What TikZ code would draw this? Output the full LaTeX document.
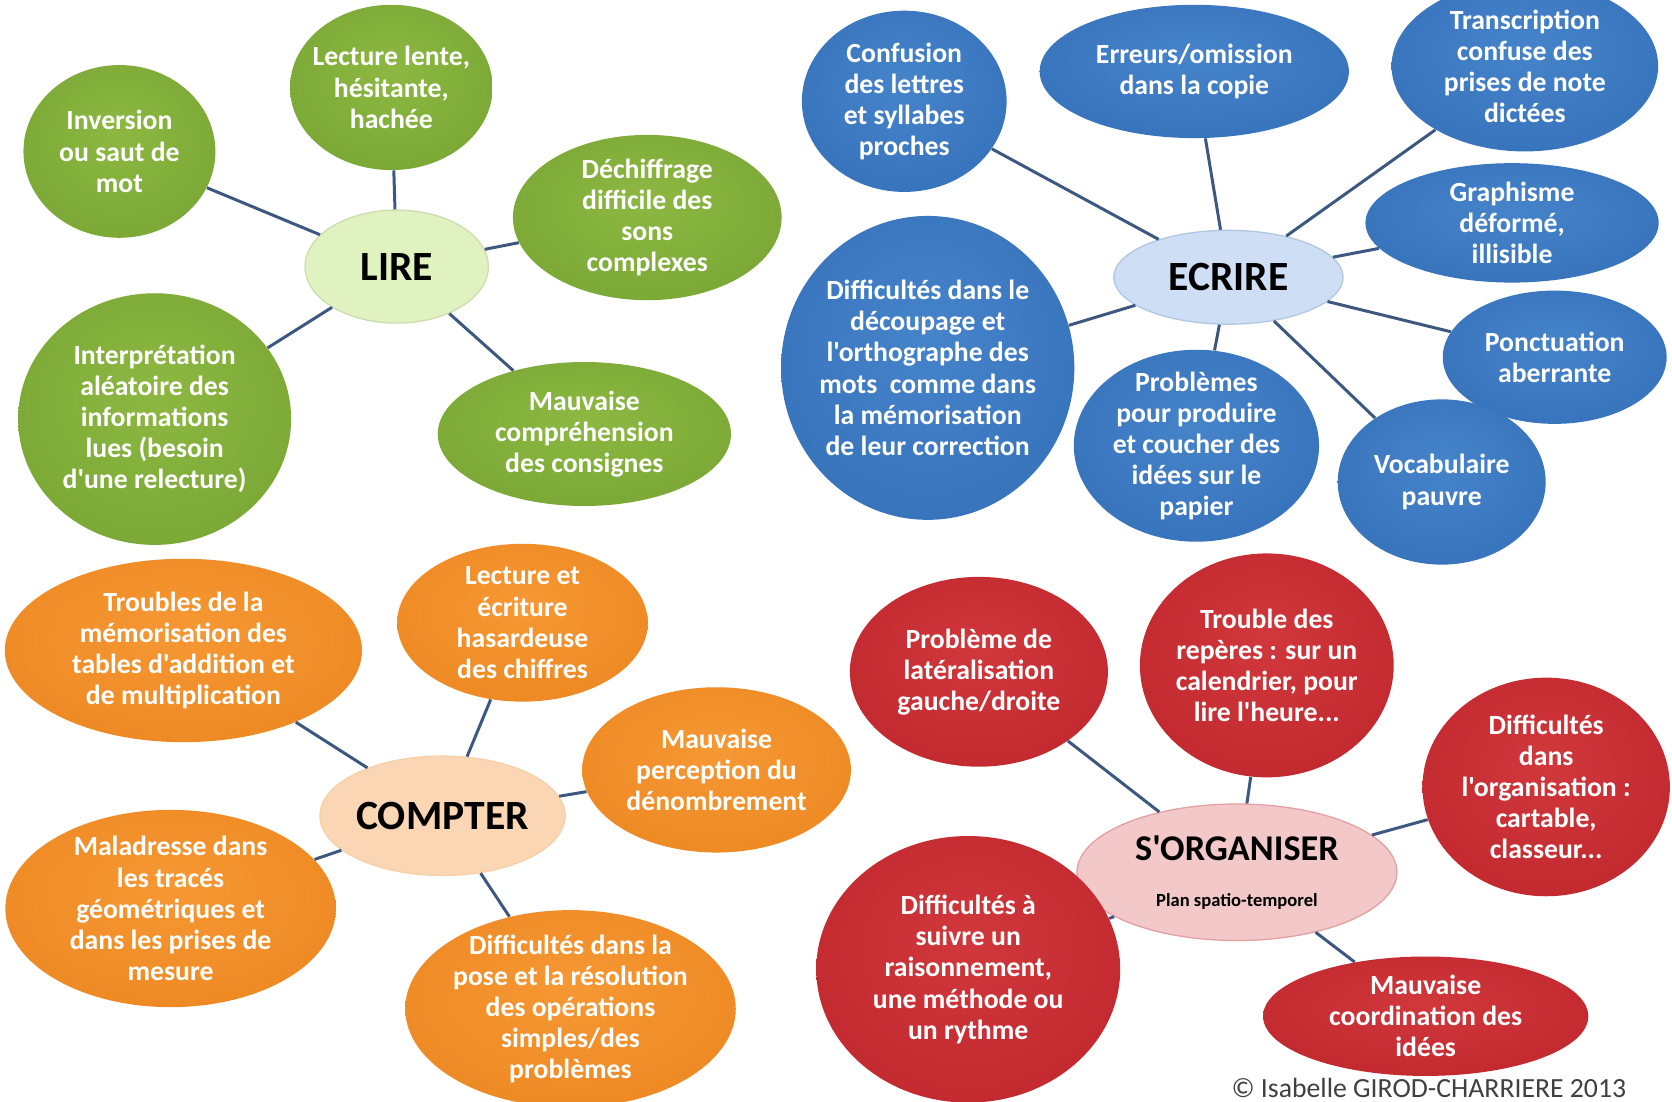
\documentclass[tikz,border=0pt]{standalone}
\usepackage{fontspec}
\setmainfont{Carlito}[Ligatures=TeXOff]
\usepackage{xcolor}
\usepackage{tikz}
\usetikzlibrary{shapes.geometric}

\definecolor{greenLight}{RGB}{140,184,66}
\definecolor{greenMid}{RGB}{124,168,54}
\definecolor{greenDark}{RGB}{92,134,34}
\definecolor{blueLight}{RGB}{70,132,202}
\definecolor{blueMid}{RGB}{56,116,188}
\definecolor{blueDark}{RGB}{34,84,150}
\definecolor{orangeLight}{RGB}{246,152,52}
\definecolor{orangeMid}{RGB}{238,138,36}
\definecolor{orangeDark}{RGB}{210,108,18}
\definecolor{redLight}{RGB}{208,56,60}
\definecolor{redMid}{RGB}{194,42,48}
\definecolor{redDark}{RGB}{150,24,30}
\definecolor{lireHub}{RGB}{224,242,192}
\definecolor{ecrireHub}{RGB}{206,222,244}
\definecolor{compterHub}{RGB}{251,214,180}
\definecolor{orgHub}{RGB}{242,200,200}
\definecolor{lineBlue}{RGB}{60,88,128}

\pgfdeclareradialshading{greenBall}{\pgfpoint{0bp}{6bp}}{color(0bp)=(greenLight); color(28bp)=(greenMid); color(44bp)=(greenMid); color(50bp)=(greenDark)}
\pgfdeclareradialshading{blueBall}{\pgfpoint{0bp}{6bp}}{color(0bp)=(blueLight); color(28bp)=(blueMid); color(44bp)=(blueMid); color(50bp)=(blueDark)}
\pgfdeclareradialshading{orangeBall}{\pgfpoint{0bp}{6bp}}{color(0bp)=(orangeLight); color(28bp)=(orangeMid); color(44bp)=(orangeMid); color(50bp)=(orangeDark)}
\pgfdeclareradialshading{redBall}{\pgfpoint{0bp}{6bp}}{color(0bp)=(redLight); color(28bp)=(redMid); color(44bp)=(redMid); color(50bp)=(redDark)}

\tikzstyle{bubble} = [ellipse, inner sep=-4pt, align=center, text=white,
    font=\fontsize{13}{14.6}\selectfont\bfseries]
\tikzstyle{lireBubble} = [bubble, shading=greenBall]
\tikzstyle{ecrireBubble} = [bubble, shading=blueBall]
\tikzstyle{compterBubble} = [bubble, shading=orangeBall]
\tikzstyle{orgBubble} = [bubble, shading=redBall]
\tikzstyle{hub} = [ellipse, inner sep=0pt, align=center, text=black,
    font=\fontsize{19.5}{22}\selectfont\bfseries, line width=0.6pt]
\tikzstyle{line} = [draw, line width=1.4pt, color=lineBlue]
\tikzset{ellsize/.style 2 args={minimum width=#1*0.5pt, minimum height=#2*0.5pt}}

\begin{document}
\begin{tikzpicture}[x=0.5pt, y=-0.5pt]
			\useasboundingbox [fill=white] (0,0) rectangle (1568,1033);

			% Place nodes: LIRE
			\node [hub, fill=lireHub, draw=greenMid!40, ellsize={172}{106}] (lire) at (372,250) {LIRE};
			\node [lireBubble, ellsize={180}{162}] (lireInversion) at (112,142) {Inversion\\ou saut de\\mot};
			\node [lireBubble, ellsize={190}{155}] (lireLente) at (367,82) {Lecture lente,\\hésitante,\\hachée};
			\node [lireBubble, ellsize={252}{155}] (lireDechiffrage) at (607,204) {Déchiffrage\\difficile des\\sons\\complexes};
			\node [lireBubble, ellsize={256}{236}] (lireInterpretation) at (145,393) {Interprétation\\aléatoire des\\informations\\lues (besoin\\d'une relecture)};
			\node [lireBubble, ellsize={275}{135}] (lireConsignes) at (548,407) {Mauvaise\\compréhension\\des consignes};

			% Place nodes: ECRIRE
			\node [hub, fill=ecrireHub, draw=blueMid!40, ellsize={215}{88}] (ecrire) at (1152,260) {ECRIRE};
			\node [ecrireBubble, ellsize={192}{170}] (ecrireConfusion) at (848,95) {Confusion\\des lettres\\et syllabes\\proches};
			\node [ecrireBubble, ellsize={290}{125}] (ecrireErreurs) at (1120,67) {Erreurs/omission\\dans la copie};
			\node [ecrireBubble, ellsize={250}{160}] (ecrireTranscription) at (1430,62) {Transcription\\confuse des\\prises de note\\dictées};
			\node [ecrireBubble, ellsize={275}{112}] (ecrireGraphisme) at (1418,209) {Graphisme\\déformé,\\illisible};
			\node [ecrireBubble, ellsize={275}{285}] (ecrireDecoupage) at (870,345) {Difficultés dans le\\découpage et\\l'orthographe des\\mots ~comme dans\\la mémorisation\\de leur correction};
			\node [ecrireBubble, ellsize={230}{180}] (ecrireProblemes) at (1122,418) {Problèmes\\pour produire\\et coucher des\\idées sur le\\papier};
			\node [ecrireBubble, ellsize={210}{125}] (ecrirePonctuation) at (1458,335) {Ponctuation\\aberrante};
			\node [ecrireBubble, ellsize={195}{155}] (ecrireVocabulaire) at (1352,452) {Vocabulaire\\pauvre};

			% Place nodes: COMPTER
			\node [hub, fill=compterHub, draw=orangeMid!40, ellsize={230}{112}] (compter) at (415,765) {COMPTER};
			\node [compterBubble, ellsize={335}{172}] (compterTroubles) at (172,610) {Troubles de la\\mémorisation des\\tables d'addition et\\de multiplication};
			\node [compterBubble, ellsize={235}{148}] (compterChiffres) at (490,584) {Lecture et\\écriture\\hasardeuse\\des chiffres};
			\node [compterBubble, ellsize={252}{155}] (compterDenombrement) at (672,722) {Mauvaise\\perception du\\dénombrement};
			\node [compterBubble, ellsize={310}{185}] (compterMaladresse) at (160,852) {Maladresse dans\\les tracés\\géométriques et\\dans les prises de\\mesure};
			\node [compterBubble, ellsize={310}{185}] (compterOperations) at (535,946) {Difficultés dans la\\pose et la résolution\\des opérations\\simples/des\\problèmes};

			% Place nodes: S'ORGANISER
			\node [hub, fill=orgHub, draw=redMid!45, ellsize={300}{128}, font=\fontsize{17}{20}\selectfont\bfseries] (org) at (1160,818) {S'ORGANISER\\[1.5pt]{\fontsize{8.7}{11}\selectfont Plan spatio-temporel}};
			\node [orgBubble, ellsize={242}{178}] (orgLateralisation) at (918,630) {Problème de\\latéralisation\\gauche/droite};
			\node [orgBubble, ellsize={238}{210}] (orgReperes) at (1188,624) {Trouble des\\repères : sur un\\calendrier, pour\\lire l'heure...};
			\node [orgBubble, ellsize={232}{205}] (orgCartable) at (1450,738) {Difficultés\\dans\\l'organisation :\\cartable,\\classeur...};
			\node [orgBubble, ellsize={285}{250}] (orgRaisonnement) at (908,909) {Difficultés à\\suivre un\\raisonnement,\\une méthode ou\\un rythme};
			\node [orgBubble, ellsize={305}{112}] (orgCoordination) at (1337,953) {Mauvaise\\coordination des\\idées};

			\node [anchor=south, inner sep=0pt, text=black!75, font=\fontsize{13}{15}\selectfont] (credit) at (1340,1030) {© Isabelle GIROD-CHARRIERE 2013};

			% Draw edges
			\path [line] (lire) -- (lireInversion);
			\path [line] (lire) -- (lireLente);
			\path [line] (lire) -- (lireDechiffrage);
			\path [line] (lire) -- (lireInterpretation);
			\path [line] (lire) -- (lireConsignes);

			\path [line] (ecrire) -- (ecrireConfusion);
			\path [line] (ecrire) -- (ecrireErreurs);
			\path [line] (ecrire) -- (ecrireTranscription);
			\path [line] (ecrire) -- (ecrireGraphisme);
			\path [line] (ecrire) -- (ecrireDecoupage);
			\path [line] (ecrire) -- (ecrireProblemes);
			\path [line] (ecrire) -- (ecrirePonctuation);
			\path [line] (ecrire) -- (ecrireVocabulaire);

			\path [line] (compter) -- (compterTroubles);
			\path [line] (compter) -- (compterChiffres);
			\path [line] (compter) -- (compterDenombrement);
			\path [line] (compter) -- (compterMaladresse);
			\path [line] (compter) -- (compterOperations);

			\path [line] (org) -- (orgLateralisation);
			\path [line] (org) -- (orgReperes);
			\path [line] (org) -- (orgCartable);
			\path [line] (org) -- (orgRaisonnement);
			\path [line] (org) -- (orgCoordination);
	\end{tikzpicture}
\end{document}
